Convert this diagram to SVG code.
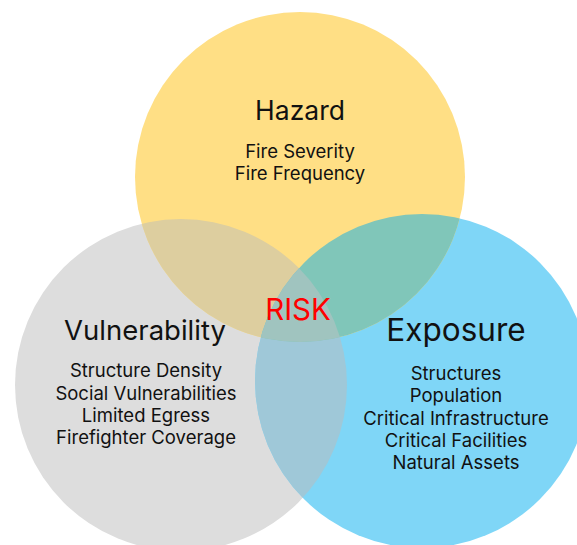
<svg xmlns="http://www.w3.org/2000/svg" width="577" height="545" viewBox="0 0 577 545">
<style>
text{font-family:Inter,"Open Sans","Liberation Sans",sans-serif;fill:#111;text-anchor:middle}
.t{font-size:26.5px}
.s{font-size:18.5px}
.r{font-size:29.5px;fill:#FF0000}
</style>
<defs>
<clipPath id="cH"><circle cx="300" cy="177" r="165"/></clipPath>
<clipPath id="cV"><circle cx="181" cy="385" r="166"/></clipPath>
<clipPath id="cE"><circle cx="422" cy="381" r="167"/></clipPath>
</defs>
<rect width="577" height="545" fill="#fff"/>
<g id="vulnerability">
<circle cx="181" cy="385" r="166" fill="#DDDDDD"/>
</g>
<g id="exposure">
<circle cx="422" cy="381" r="167" fill="#7FD6F7"/>
</g>
<g id="hazard">
<circle cx="300" cy="177" r="165" fill="#FFDF85"/>
</g>
<g id="overlaps">
<g clip-path="url(#cV)"><circle cx="300" cy="177" r="165" fill="#DDCE9F"/><circle cx="422" cy="381" r="167" fill="#9FC8D8"/></g>
<g clip-path="url(#cE)"><circle cx="300" cy="177" r="165" fill="#80C6B9"/></g>
<g clip-path="url(#cE)"><g clip-path="url(#cV)"><circle cx="300" cy="177" r="165" fill="#A0C4BF"/></g></g>
</g>
<g id="labels">
<text class="t" x="300" y="120">Hazard</text>
<text class="s" x="300" y="158">Fire Severity</text>
<text class="s" x="300" y="180">Fire Frequency</text>
<text class="t" x="145" y="340" style="font-size:27.5px">Vulnerability</text>
<text class="s" x="146" y="377">Structure Density</text>
<text class="s" x="146" y="400">Social Vulnerabilities</text>
<text class="s" x="146" y="422">Limited Egress</text>
<text class="s" x="146" y="444">Firefighter Coverage</text>
<text class="t" x="456" y="341" style="font-size:31.5px">Exposure</text>
<text class="s" x="456" y="380">Structures</text>
<text class="s" x="456" y="402">Population</text>
<text class="s" x="456" y="425">Critical Infrastructure</text>
<text class="s" x="456" y="447">Critical Facilities</text>
<text class="s" x="456" y="469">Natural Assets</text>
<text class="r" x="298" y="320">RISK</text>
</g>
</svg>
